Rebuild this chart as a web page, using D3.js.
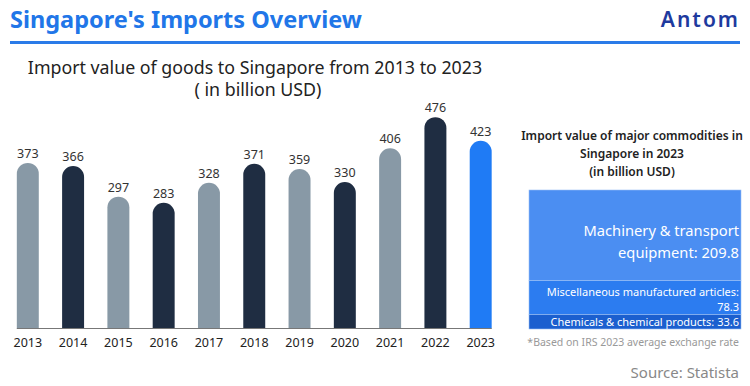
<!DOCTYPE html>
<html>
<head>
<meta charset="utf-8">
<title>Singapore's Imports Overview</title>
<script src="https://d3js.org/d3.v7.min.js"></script>
<style>
  body { margin: 0; background: #fff; }
  text { font-family: "Noto Sans", "Open Sans", sans-serif; }
</style>
</head>
<body>
<script>
// data
const years = ["2013", "2014", "2015", "2016", "2017", "2018", "2019", "2020", "2021", "2022", "2023"];
const importValues = [373, 366, 297, 283, 328, 371, 359, 330, 406, 476, 423];
const commodityNames = ["Machinery & transport equipment", "Miscellaneous manufactured articles", "Chemicals & chemical products"];
const commodityValues = [209.8, 78.3, 33.6];

const width = 750, height = 386;
const svg = d3.select("body").append("svg")
  .attr("width", width).attr("height", height);

// header
svg.append("text")
  .attr("x", 10).attr("y", 28)
  .attr("font-size", 23.5).attr("font-weight", "bold")
  .attr("fill", "#2176e8")
  .text("Singapore's Imports Overview");

svg.append("text")
  .attr("x", 740).attr("y", 27)
  .attr("text-anchor", "end")
  .attr("font-size", 21).attr("font-weight", 600)
  .attr("fill", "#1e3a9e")
  .attr("letter-spacing", 2)
  .text("Antom");

svg.append("rect")
  .attr("x", 10).attr("y", 41).attr("width", 730).attr("height", 3)
  .attr("fill", "#2a7be8");

// bar chart
svg.append("text")
  .attr("x", 255).attr("y", 74)
  .attr("text-anchor", "middle")
  .attr("font-size", 17.8).attr("fill", "#222")
  .text("Import value of goods to Singapore from 2013 to 2023");
svg.append("text")
  .attr("x", 258).attr("y", 96)
  .attr("text-anchor", "middle")
  .attr("font-size", 17.8).attr("fill", "#222")
  .text("( in billion USD)");

const x = d3.scaleBand()
  .domain(years)
  .range([5.5, 503])
  .paddingInner(0.515)
  .paddingOuter(0.25);

const baseY = 328.5;
const y = d3.scaleLinear().domain([0, 500]).range([baseY, baseY - 222]);

const barColor = (d, i) => i === years.length - 1 ? "#1f7bf5" : (i % 2 === 0 ? "#8899a6" : "#1f2d42");

const bw = x.bandwidth();
const r = bw / 2;

svg.append("g").selectAll("path")
  .data(importValues)
  .join("path")
  .attr("fill", barColor)
  .attr("d", (d, i) => {
    const x0 = x(years[i]), x1 = x0 + bw, top = y(d);
    return `M${x0},${baseY}V${top + r}A${r},${r} 0 0 1 ${x1},${top + r}V${baseY}Z`;
  });

svg.append("line")
  .attr("x1", x(years[0])).attr("x2", x(years[years.length - 1]) + bw)
  .attr("y1", baseY).attr("y2", baseY)
  .attr("stroke", "#777").attr("stroke-width", 1.2);

svg.append("g").selectAll("text")
  .data(importValues)
  .join("text")
  .attr("x", (d, i) => x(years[i]) + bw / 2)
  .attr("y", d => y(d) - 5)
  .attr("text-anchor", "middle")
  .attr("font-size", 12.5).attr("fill", "#333")
  .text(d => d);

const xAxis = svg.append("g")
  .attr("transform", `translate(0,${baseY})`)
  .call(d3.axisBottom(x).tickSize(0).tickPadding(10));
xAxis.select(".domain").remove();
xAxis.selectAll("text")
  .attr("font-size", 12.5).attr("fill", "#222")
  .style("font-family", "'Noto Sans', 'Open Sans', sans-serif");

// commodities panel
const panelX = 632;
["Import value of major commodities in", "Singapore in 2023", "(in billion USD)"].forEach((t, i) => {
  svg.append("text")
    .attr("x", panelX).attr("y", 140 + i * 18)
    .attr("text-anchor", "middle")
    .attr("font-size", 12).attr("font-weight", 600).attr("fill", "#222")
    .text(t);
});

const boxLeft = 529, boxRight = 741, boxTop = 190, boxBottom = 329;
const total = d3.sum(commodityValues);
const ys = d3.scaleLinear().domain([0, total]).range([boxTop, boxBottom]);
const stackStart = d3.cumsum([0].concat(commodityValues));
const boxColors = ["#4b8ef2", "#2c7cf0", "#1b5fcf"];

svg.append("g").selectAll("rect")
  .data(commodityValues)
  .join("rect")
  .attr("x", boxLeft).attr("width", boxRight - boxLeft)
  .attr("y", (d, i) => ys(stackStart[i]))
  .attr("height", d => ys(d) - ys(0))
  .attr("fill", (d, i) => boxColors[i])
  .attr("stroke", "#9cc0f5").attr("stroke-width", 0.6);

const tx = 739;
const boxLabels = [
  { lines: ["Machinery & transport", "equipment: " + commodityValues[0]], size: 14.7, dy: [236, 258] },
  { lines: ["Miscellaneous manufactured articles:", String(commodityValues[1])], size: 11, dy: [296, 311] },
  { lines: ["Chemicals & chemical products: " + commodityValues[2]], size: 11, dy: [326] }
];
boxLabels.forEach(b => {
  b.lines.forEach((t, j) => {
    svg.append("text")
      .attr("x", tx).attr("y", b.dy[j])
      .attr("text-anchor", "end")
      .attr("font-size", b.size).attr("fill", "#fff")
      .text(t);
  });
});

svg.append("text")
  .attr("x", tx).attr("y", 346)
  .attr("text-anchor", "end")
  .attr("font-size", 10.5).attr("fill", "#999")
  .text("*Based on IRS 2023 average exchange rate");

svg.append("text")
  .attr("x", tx).attr("y", 378)
  .attr("text-anchor", "end")
  .attr("font-size", 15).attr("fill", "#888")
  .text("Source: Statista");
</script>
</body>
</html>
